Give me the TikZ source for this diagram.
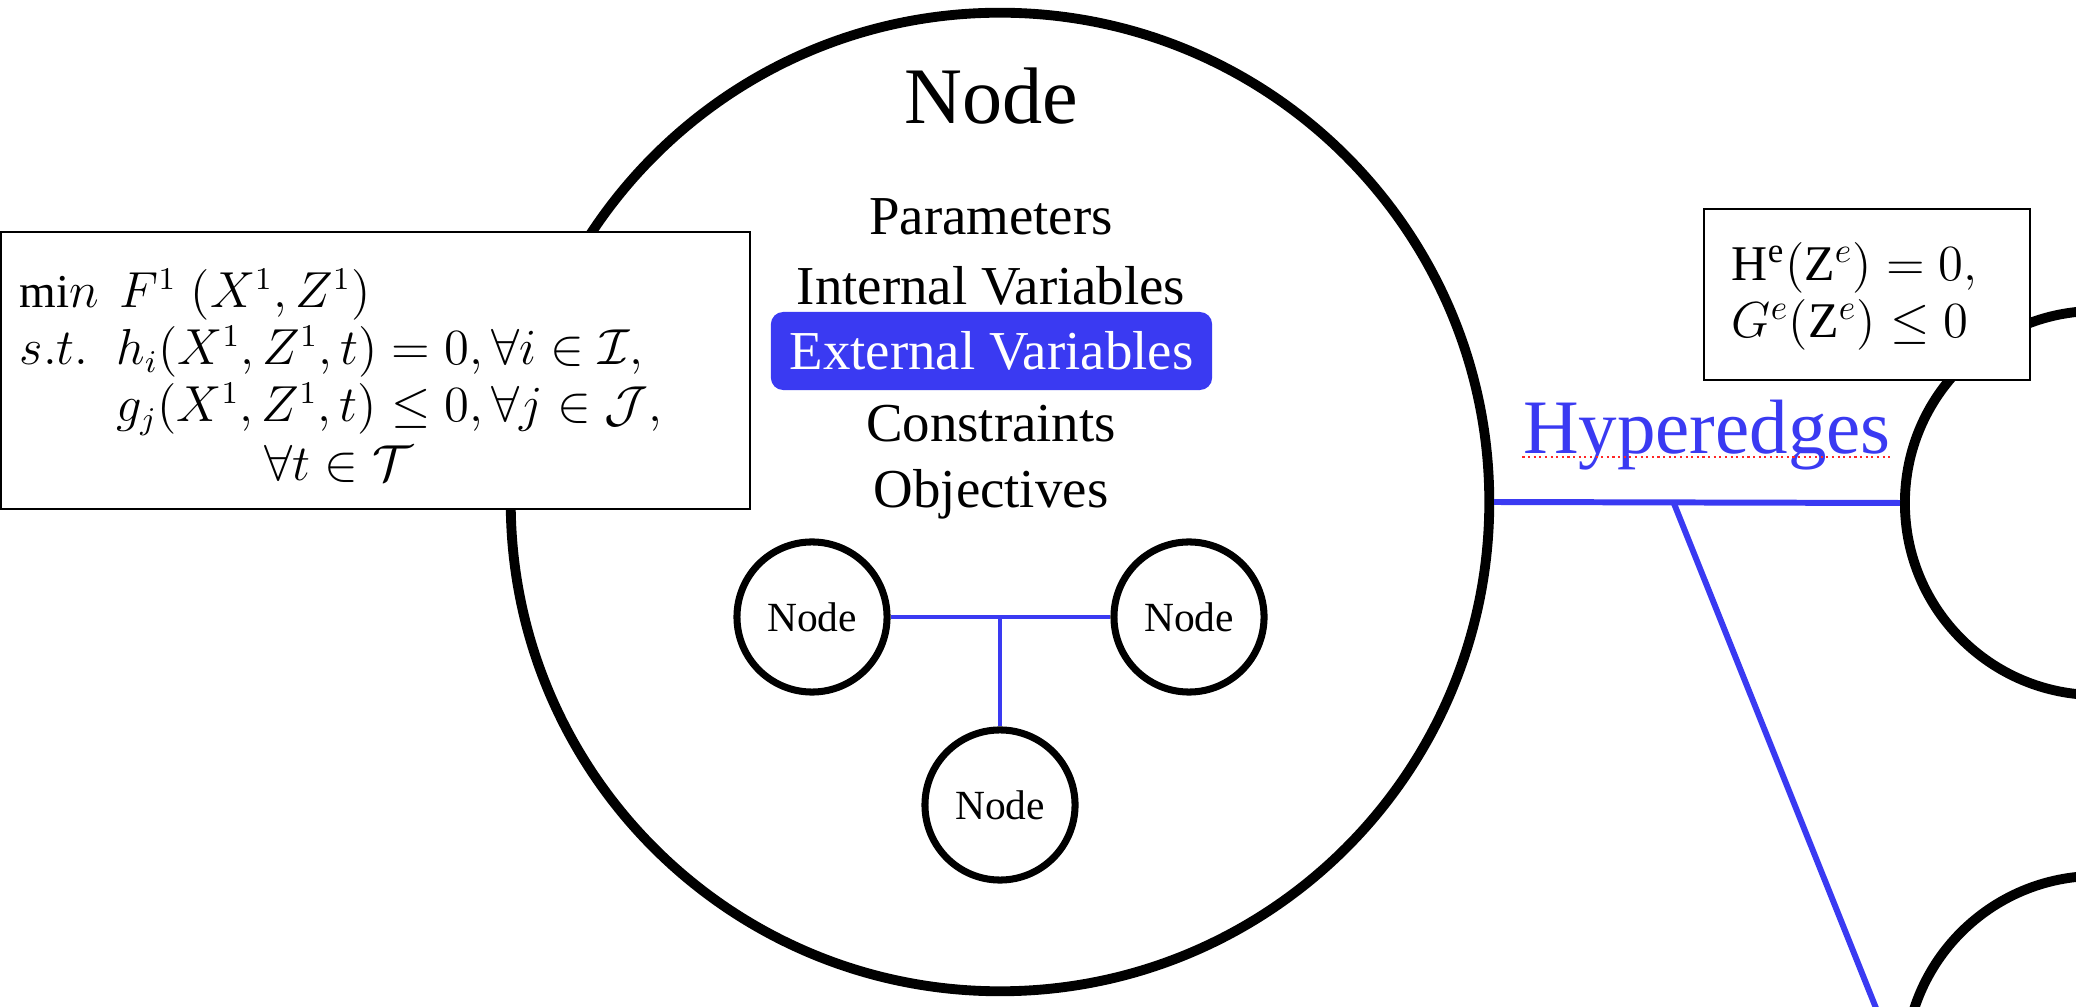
\documentclass[tikz,border=0pt]{standalone}
\usepackage{amsmath,amssymb}
\usepackage{fontspec}
\setmainfont{Liberation Serif}
\usetikzlibrary{calc}
\definecolor{hyperblue}{RGB}{58,58,242}

\tikzset{
  bignode/.style={circle, draw, line width=2.8pt, minimum size=9.78cm, inner sep=0pt},
  subnode/.style={circle, draw, line width=2pt, minimum size=1.5cm, inner sep=0pt, font=\fontsize{11.8}{13}\selectfont},
  outnode/.style={circle, draw, line width=2.8pt, minimum size=3.84cm, inner sep=0pt},
  itemtxt/.style={anchor=base, inner sep=0pt, font=\fontsize{15.6}{18}\selectfont},
  mathbox/.style={draw, fill=white, line width=0.6pt, inner sep=0pt},
  mtxt/.style={anchor=base west, inner sep=0pt, font=\fontsize{13.4}{16}\selectfont},
  edgeline/.style={hyperblue, line width=1.7pt},
  subedge/.style={hyperblue, line width=0.9pt},
}

\begin{document}
\begin{tikzpicture}[x=0.01cm, y=-0.01cm]
\useasboundingbox (0,0) rectangle (2076,1007);

% the node and its contents
\node[bignode] (main) at (1000,502) {};
\node[anchor=base, inner sep=0pt, font=\fontsize{22.8}{26}\selectfont] (title) at (991,124) {Node};
\node[itemtxt] (param) at (991,235) {Parameters};
\node[itemtxt] (intvar) at (991,305) {Internal Variables};
\node[itemtxt, anchor=center, fill=hyperblue, text=white, rounded corners=3.5pt,
      minimum width=4.41cm, minimum height=0.78cm] (extvar) at (991.5,351) {External Variables};
\node[itemtxt] (constr) at (991,442) {Constraints};
\node[itemtxt] (object) at (991,508) {Objectives};

% sub nodes
\node[subnode] (subA) at (812,617) {Node};
\node[subnode] (subB) at (1189,617) {Node};
\node[subnode] (subC) at (1000,805) {Node};
\coordinate (subjoin) at (subC |- subA);
\draw[subedge] (subA) -- (subB);
\draw[subedge] (subjoin) -- (subC);

% neighbouring nodes and hyperedges
\node[outnode] (outA) at (2097,503) {};
\node[outnode] (outB) at (2097,1068) {};
\draw[edgeline] (main.east) -- (outA.west);
\coordinate (hyjoin) at ($(main.east)!0.442!(outA.west)$);
\draw[edgeline] (hyjoin) -- (outB.west);
\node[anchor=base, inner sep=0pt, text=hyperblue, font=\fontsize{21.9}{25}\selectfont] (hylabel) at (1707,454) {Hyperedges};
\draw[red!85, densely dotted, line width=0.6pt] ([yshift=-0.9pt]hylabel.base west) -- ([yshift=-0.9pt]hylabel.base east);

% node problem
\node[mathbox, minimum width=7.49cm, minimum height=2.77cm] (objbox) at (375.5,370.5) {};
\node[mtxt] (objmin) at (19,308) {$\mathrm{mi}n$};
\node[mtxt] (objF) at (119,308) {$F^1\;(X^1,Z^1)$};
\node[mtxt] (objst) at (19,365) {$s.t.$};
\node[mtxt] (objh) at (116,365) {$h_i(X^1,Z^1,t)=0,\forall i\in\mathcal{I},$};
\node[mtxt] (objg) at (116,422) {$g_j(X^1,Z^1,t)\leq 0,\forall j\in\mathcal{J},$};
\node[mtxt, anchor=base] (objt) at (339,481) {$\forall t\in\mathcal{T}$};

% hyperedge problem
\node[mathbox, minimum width=3.26cm, minimum height=1.71cm] (edgebox) at (1867,294.5) {};
\node[mtxt, font=\fontsize{14.2}{16}\selectfont] (edgeH) at (1731,281) {$\mathrm{H}^{\mathrm{e}}(\mathrm{Z}^{e}) = 0,$};
\node[mtxt, font=\fontsize{14.2}{16}\selectfont] (edgeG) at (1731,338) {$G^{e}(\mathrm{Z}^{e}) \leq 0$};
\end{tikzpicture}
\end{document}
